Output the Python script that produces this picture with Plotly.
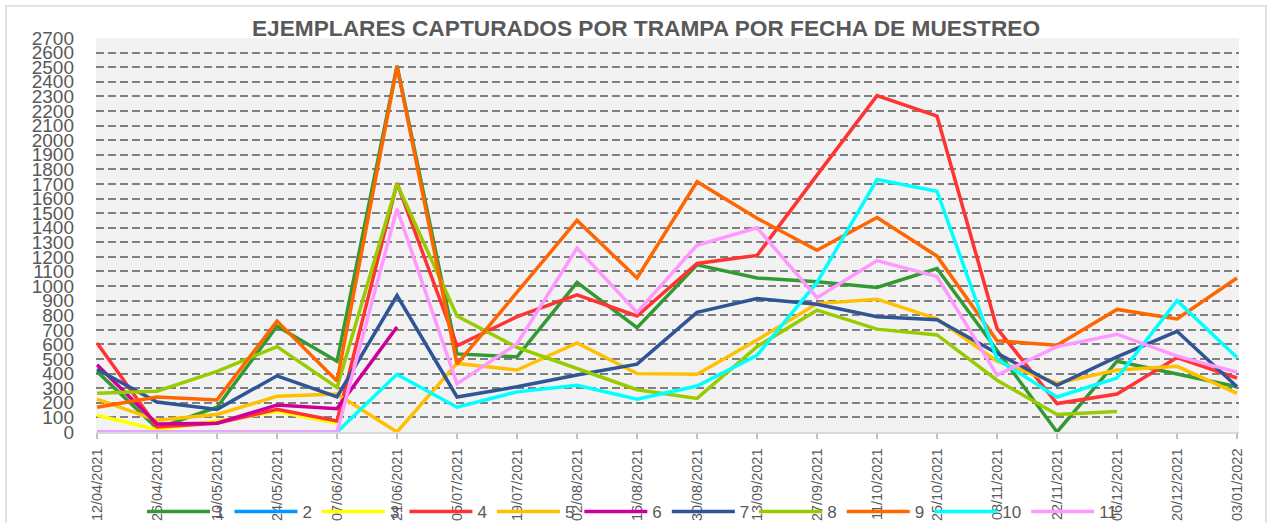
import plotly.graph_objects as go

dates = ["12/04/2021", "26/04/2021", "10/05/2021", "24/05/2021", "07/06/2021",
         "21/06/2021", "05/07/2021", "19/07/2021", "02/08/2021", "16/08/2021",
         "30/08/2021", "13/09/2021", "27/09/2021", "11/10/2021", "25/10/2021",
         "08/11/2021", "22/11/2021", "06/12/2021", "20/12/2021", "03/01/2022"]

trap_1 = [415, 25, 170, 725, 485, 2510, 535, 515, 1025, 715, 1145, 1055, 1030, 990, 1120, 555, 0, 485, 400, 310]
trap_2 = [None] * 20
trap_3 = [115, 15, 75, 140, 60, None, None, None, None, None, None, None, None, None, None, None, None, None, None, None]
trap_4 = [610, 35, 60, 155, 75, 1705, 590, 790, 940, 795, 1155, 1210, 1760, 2305, 2165, 710, 195, 260, 510, 370]
trap_5 = [225, 80, 120, 245, 260, 0, 470, 425, 610, 400, 395, 630, 880, 910, 775, 485, 335, 425, 450, 265]
trap_6 = [460, 55, 60, 185, 160, 720, None, None, None, None, None, None, None, None, None, None, None, None, None, None]
trap_7 = [430, 205, 155, 385, 240, 935, 240, 310, 390, 465, 820, 915, 875, 790, 770, 540, 320, 515, 690, 310]
trap_8 = [265, 280, 415, 585, 305, 1700, 795, 580, 435, 290, 230, 585, 835, 705, 665, 355, 120, 140, None, None]
trap_9 = [170, 240, 220, 760, 350, 2505, 465, 960, 1450, 1055, 1715, 1465, 1245, 1470, 1205, 625, 595, 840, 775, 1055]
trap_10 = [0, 0, 0, 0, 0, 395, 170, 275, 320, 225, 315, 525, 1025, 1730, 1650, 500, 240, 370, 900, 510]
trap_11 = [0, 0, 0, 0, 0, 1530, 330, 605, 1260, 820, 1280, 1400, 920, 1175, 1065, 390, 585, 670, 520, 410]

names = ["1", "2", "3", "4", "5", "6", "7", "8", "9", "10", "11"]
series = [trap_1, trap_2, trap_3, trap_4, trap_5, trap_6, trap_7, trap_8, trap_9, trap_10, trap_11]
colors = ["#339933", "#0099FF", "#FFFF00", "#FF3333", "#FFC000", "#CC0099",
          "#2F5597", "#99CC00", "#FF6600", "#00FFFF", "#FF99FF"]

title_text = "EJEMPLARES CAPTURADOS POR TRAMPA POR FECHA DE MUESTREO"

fig = go.Figure()
for name, vals, col in zip(names, series, colors):
    fig.add_trace(go.Scatter(x=dates, y=vals, name=name, mode="lines",
                             line=dict(color=col, width=3.5), connectgaps=False))

W, H = 1269, 523
ml, mr, mt, mb = 96, 30, 38, 91
pw, ph = W - ml - mr, H - mt - mb

def px_x(p):
    return (p - ml) / pw

def px_y(p):
    return (H - mb - p) / ph

fig.add_shape(type="rect", xref="paper", yref="paper",
              x0=px_x(6), x1=px_x(1266), y0=px_y(540), y1=px_y(6),
              line=dict(color="#D9D9D9", width=1.5), fillcolor="rgba(0,0,0,0)", layer="below")

fig.update_layout(
    width=W, height=H, autosize=False,
    margin=dict(l=ml, r=mr, t=mt, b=mb, pad=0),
    paper_bgcolor="white", plot_bgcolor="#F2F2F2",
    font=dict(family="Liberation Sans", color="#595959"),
    title=dict(text=title_text, x=646 / W, xref="container", xanchor="center",
               y=1 - 28 / H, yref="container", yanchor="middle",
               font=dict(family="Liberation Sans", size=22.7, color="#595959", weight="bold")),
    showlegend=True,
    legend=dict(orientation="h", xref="container", x=142 / W, xanchor="left",
                yref="container", y=1 - 512 / H, yanchor="middle",
                font=dict(size=17, color="#595959"), bgcolor="rgba(0,0,0,0)",
                itemwidth=63, traceorder="normal"),
    xaxis=dict(type="category", range=[-0.017, 19.033], tickangle=-90,
               tickfont=dict(size=14.5, color="#595959"),
               showgrid=False, showline=True, linecolor="#D9D9D9", linewidth=1.5,
               ticks="outside", ticklen=5, tickcolor="#BFBFBF", tickwidth=1.5,
               ticklabelstandoff=4, automargin=False, zeroline=False),
    yaxis=dict(range=[0, 2700], dtick=100, tick0=0,
               tickfont=dict(size=19, color="#595959"),
               showgrid=True, gridcolor="#7F7F7F", gridwidth=2, griddash="8px,4px",
               zeroline=False, showline=False, ticks="", ticklabelstandoff=21,
               automargin=False),
)

fig.write_html("out.html", config={"displayModeBar": False},
               post_script="document.body.style.margin='0px';")
